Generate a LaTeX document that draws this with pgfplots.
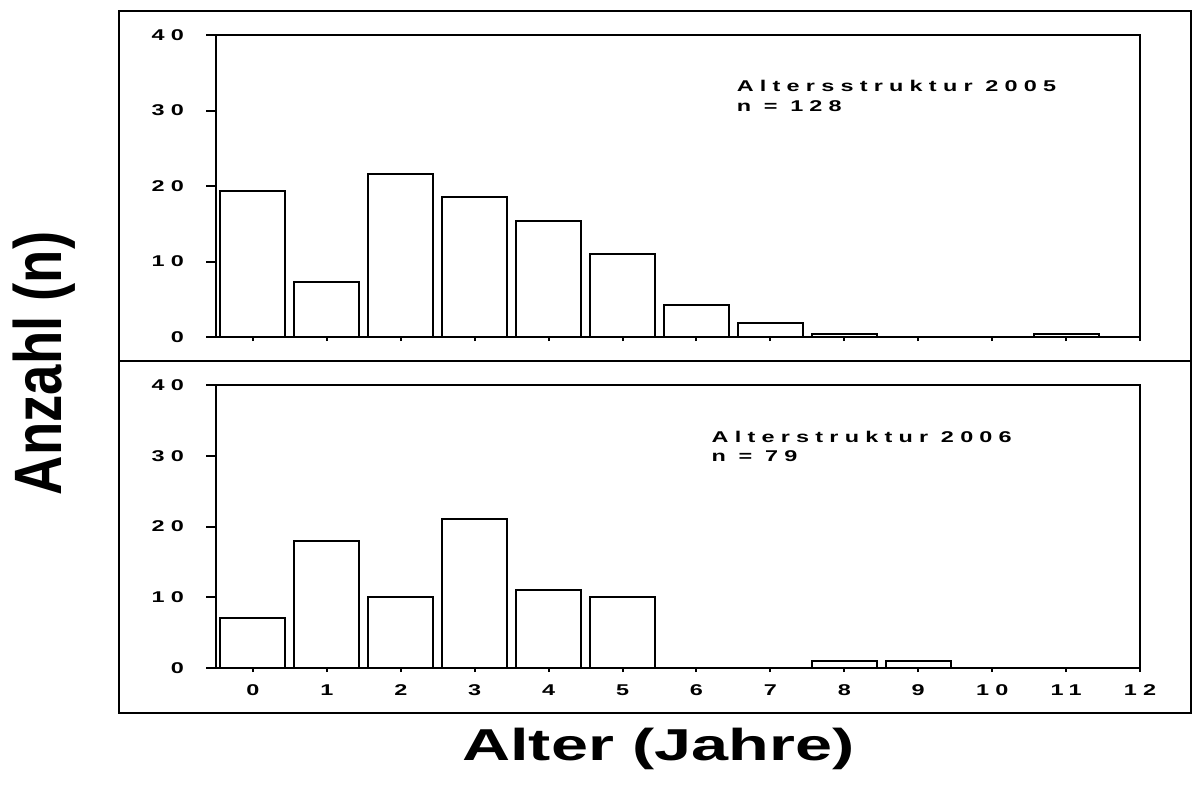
\documentclass[border=0pt]{standalone}
\usepackage{pgfplots}
\pgfplotsset{compat=1.18}
\usepackage{pgfplotstable}
\usepackage{fontspec}
\usepackage{graphicx}
\setmainfont{Liberation Sans}
\newfontfamily\wsp[FakeStretch=1.5,LetterSpace=40]{Liberation Sans}
\newcommand\sm{\wsp\bfseries\fontsize{7.8pt}{9pt}\selectfont}

\pgfplotstableread{
x y
0 19.4
1 7.3
2 21.6
3 18.6
4 15.4
5 11.0
6 4.3
7 1.9
8 0.4
11 0.4
}\topdata

\pgfplotstableread{
x y
0 7
1 18
2 10
3 21
4 11
5 10
8 1
9 1
}\botdata

\pgfplotsset{panel/.style={
  scale only axis, width=462pt,
  xmin=-0.5, xmax=12, ymin=0, ymax=40,
  xtick={0,1,2,3,4,5,6,7,8,9,10,11,12},
  ytick={0,10,20,30,40},
  yticklabels={0,10,20,30,40},
  xtick pos=left, ytick pos=left,
  tick align=outside, major tick length=5pt,
  x tick style={/pgfplots/major tick length=2pt, line width=1pt, black},
  y tick style={line width=1pt, black},
  axis line style={line width=1pt},
  yticklabel style={font=\sm, xshift=-7.5pt},
  xticklabel style={font=\sm},
  ybar, bar width=0.88,
  clip=false,
}}

\begin{document}
\begin{tikzpicture}
\useasboundingbox (0,0) rectangle (596pt,394.5pt);
\draw[line width=1pt] (59.5pt,38pt) rectangle (595.5pt,389.15pt);
\draw[line width=1pt] (59.5pt,214pt) -- (596pt,214pt);

\begin{axis}[panel, height=151pt, at={(108pt,226pt)}, anchor=south west,
  xticklabels={}]
\addplot[draw=black, fill=white, line width=1pt] table[x=x,y=y] {\topdata};
\node[anchor=base west, inner sep=0, font=\sm] at (axis cs:6.54,32.48) {Altersstruktur 2005};
\node[anchor=base west, inner sep=0, font=\sm] at (axis cs:6.54,29.82) {n = 128};
\end{axis}

\begin{axis}[panel, height=141.5pt, at={(108pt,60.5pt)}, anchor=south west,
  xticklabels={0,1,2,3,4,5,6,7,8,9,10,11,12}]
\addplot[draw=black, fill=white, line width=1pt] table[x=x,y=y] {\botdata};
\node[anchor=base west, inner sep=0, font=\sm] at (axis cs:6.2,31.85) {Alterstruktur 2006};
\node[anchor=base west, inner sep=0, font=\sm] at (axis cs:6.2,29.24) {n = 79};
\end{axis}

\node[rotate=90, anchor=base, inner sep=0] at (31pt,212.8pt)
  {\fontsize{27.25pt}{30pt}\selectfont\bfseries\scalebox{1}[1.23]{Anzahl (n)}};
\node[anchor=base, inner sep=0] at (329.25pt,14.5pt)
  {\fontsize{22.35pt}{26pt}\selectfont\bfseries\scalebox{1.49}[1]{Alter (Jahre)}};
\end{tikzpicture}
\end{document}
